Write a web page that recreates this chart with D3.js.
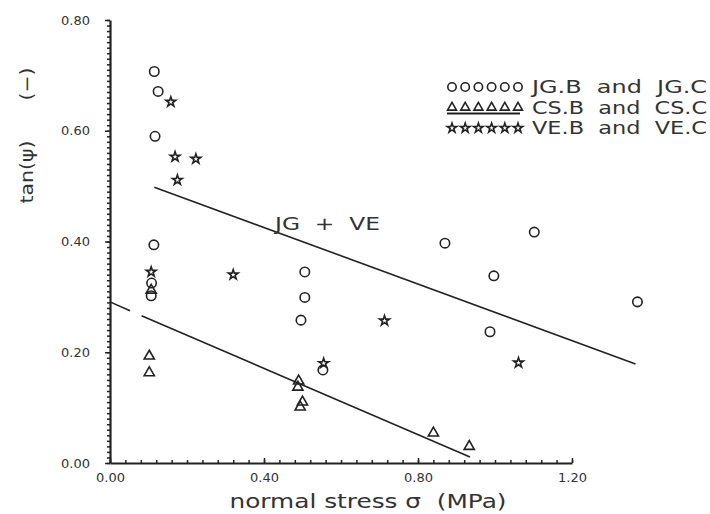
<!DOCTYPE html>
<html>
<head>
<meta charset="utf-8">
<script src="https://cdn.jsdelivr.net/npm/d3@7"></script>
<style>
    body { margin: 0; background: #fff; }
    text { font-family: "DejaVu Sans", sans-serif; fill: #333; }
</style>
</head>
<body>
<div class="chart"></div>
<script>
"use strict";

// JG.B and JG.C (circles)
const jg_points = [
    [0.115, 0.707], [0.125, 0.671], [0.117, 0.590], [0.114, 0.394],
    [0.108, 0.325], [0.107, 0.302], [0.506, 0.345], [0.506, 0.299],
    [0.496, 0.258], [0.553, 0.168], [0.870, 0.397], [1.102, 0.417],
    [0.997, 0.338], [1.370, 0.291], [0.987, 0.237]
];
// CS.B and CS.C (triangles)
const cs_points = [
    [0.107, 0.312], [0.102, 0.193], [0.102, 0.163], [0.490, 0.148],
    [0.488, 0.137], [0.500, 0.110], [0.494, 0.101], [0.840, 0.054],
    [0.933, 0.030]
];
// VE.B and VE.C (stars)
const ve_points = [
    [0.158, 0.652], [0.169, 0.553], [0.223, 0.549], [0.175, 0.511],
    [0.107, 0.345], [0.320, 0.340], [0.555, 0.180], [0.713, 0.257],
    [1.061, 0.181]
];
// fitted lines
const jgve_fit = [[0.115, 0.498], [1.365, 0.179]];
const cs_fit = [
    [[0.000, 0.291], [0.052, 0.275]],
    [[0.082, 0.266], [0.935, 0.011]]
];
const x_ticks = [0.0, 0.4, 0.8, 1.2];
const y_ticks = [0.0, 0.2, 0.4, 0.6, 0.8];
const legend_labels = ["JG.B  and  JG.C", "CS.B  and  CS.C", "VE.B  and  VE.C"];

const width = 710, height = 514;

const svg = d3.select(".chart").append("svg")
    .attr("width", width)
    .attr("height", height);

const x = d3.scaleLinear().domain([0, 1.2]).range([110, 572]);
const y = d3.scaleLinear().domain([0, 0.8]).range([463, 20]);

const ink = "#222";

// minor ticks
svg.append("g")
    .attr("transform", `translate(${x(0)},0)`)
    .call(d3.axisLeft(y).tickValues(d3.range(0, 81).map(i => i / 100)).tickSize(3).tickFormat(""))
    .call(g => g.select(".domain").remove())
    .call(g => g.selectAll("line").attr("stroke", ink).attr("stroke-width", 1.5));
svg.append("g")
    .attr("transform", `translate(0,${y(0)})`)
    .call(d3.axisTop(x).tickValues(d3.range(0, 31).map(i => i * 0.04)).tickSize(3).tickFormat(""))
    .call(g => g.select(".domain").remove())
    .call(g => g.selectAll("line").attr("stroke", ink).attr("stroke-width", 1.5));

// main axes
const y_axis = svg.append("g")
    .attr("transform", `translate(${x(0)},0)`)
    .call(d3.axisLeft(y).tickValues(y_ticks).tickFormat(d3.format(".2f"))
        .tickSizeInner(5).tickSizeOuter(0).tickPadding(15));
const x_axis = svg.append("g")
    .attr("transform", `translate(0,${y(0)})`)
    .call(d3.axisBottom(x).tickValues(x_ticks).tickFormat(d3.format(".2f"))
        .tickSizeInner(-5).tickSizeOuter(0).tickPadding(10));
[y_axis, x_axis].forEach(a => {
    a.select(".domain").attr("stroke", ink).attr("stroke-width", 2.2);
    a.selectAll("line").attr("stroke", ink).attr("stroke-width", 1.5);
    a.selectAll("text").attr("font-size", 13).attr("font-family", "DejaVu Sans").attr("fill", "#444");
});

// axis titles
svg.append("text")
    .attr("transform", `translate(33,172) rotate(-90)`)
    .attr("text-anchor", "middle")
    .attr("font-size", 18)
    .attr("textLength", 63)
    .attr("lengthAdjust", "spacingAndGlyphs")
    .text("tan(\u03c8)");
svg.append("text")
    .attr("transform", `translate(33,84) rotate(-90)`)
    .attr("text-anchor", "middle")
    .attr("font-size", 18)
    .attr("textLength", 33)
    .attr("lengthAdjust", "spacingAndGlyphs")
    .text("(\u2212)");
svg.append("text")
    .attr("x", 368)
    .attr("y", 508)
    .attr("text-anchor", "middle")
    .attr("font-size", 19)
    .attr("textLength", 277)
    .attr("lengthAdjust", "spacingAndGlyphs")
    .style("white-space", "pre")
    .text("normal stress \u03c3  (MPa)");

// fitted lines
const line = d3.line().x(d => x(d[0])).y(d => y(d[1]));
svg.append("path")
    .attr("d", line(jgve_fit))
    .attr("fill", "none").attr("stroke", ink).attr("stroke-width", 1.6);
cs_fit.forEach(seg => {
    svg.append("path")
        .attr("d", line(seg))
        .attr("fill", "none").attr("stroke", ink).attr("stroke-width", 1.6);
});
svg.append("text")
    .attr("x", 275)
    .attr("y", 230)
    .attr("font-size", 18)
    .attr("textLength", 105)
    .attr("lengthAdjust", "spacingAndGlyphs")
    .style("white-space", "pre")
    .text("JG  +  VE");

// markers
const circle_sym = d3.symbol().type(d3.symbolCircle).size(70);
const tri_sym = d3.symbol().type(d3.symbolTriangle).size(45);
const star_sym = d3.symbol().type(d3.symbolStar).size(30);

function draw_points(data, sym) {
    svg.append("g").selectAll("path")
        .data(data)
        .enter()
        .append("path")
        .attr("transform", d => `translate(${x(d[0])},${y(d[1])})`)
        .attr("d", sym)
        .attr("fill", "none")
        .attr("stroke", ink)
        .attr("stroke-width", 1.6);
}
draw_points(jg_points, circle_sym);
draw_points(cs_points, tri_sym);
draw_points(ve_points, star_sym);

// legend
const legend_syms = [
    d3.symbol().type(d3.symbolCircle).size(55),
    d3.symbol().type(d3.symbolTriangle).size(35),
    d3.symbol().type(d3.symbolStar).size(28)
];
const legend = svg.append("g");
legend_labels.forEach((label, i) => {
    const ly = 87 + i * 20.5;
    const row = legend.append("g");
    row.selectAll("path")
        .data(d3.range(6))
        .enter()
        .append("path")
        .attr("transform", k => `translate(${452 + k * 13.2},${ly})`)
        .attr("d", legend_syms[i])
        .attr("fill", "none")
        .attr("stroke", ink)
        .attr("stroke-width", 1.6);
    row.append("text")
        .attr("x", 532)
        .attr("y", ly)
        .attr("dy", "0.36em")
        .attr("font-size", 18)
        .style("white-space", "pre")
        .attr("textLength", 175)
        .attr("lengthAdjust", "spacingAndGlyphs")
        .text(label);
    if (i === 1) {
        row.append("line")
            .attr("x1", 447).attr("x2", 520)
            .attr("y1", ly + 6).attr("y2", ly + 6)
            .attr("stroke", ink).attr("stroke-width", 1.8);
    }
});
</script>
</body>
</html>
